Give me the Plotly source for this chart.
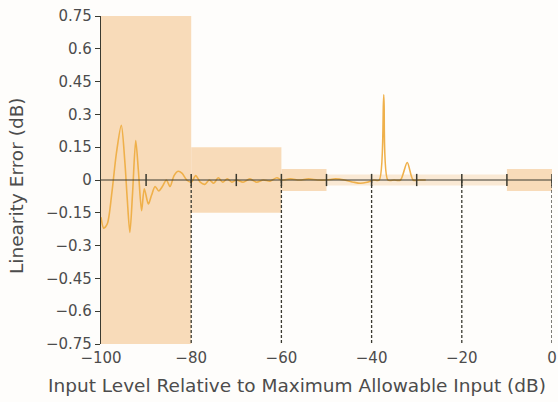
import plotly.graph_objects as go

# ---- data ----
err_x = [-100, -99.4, -98.6, -97.6, -96.6, -95.5, -94.7, -94.2, -93.6, -93.0,
         -92.3, -91.7, -91.0, -90.4, -89.5, -88.8, -88.0, -87.2, -86.4, -85.5,
         -84.7, -83.8, -82.9, -82.0, -81.0, -80.0, -79.0, -78.0, -77.0, -76.0,
         -75.0, -74.0, -73.0, -72.0, -71.0, -70.0, -68.5, -67.0, -65.5, -64.0,
         -62.5, -61.0, -60.0, -58.0, -56.0, -54.0, -52.0, -50.0, -48.0, -46.0,
         -44.0, -42.5, -41.0, -39.5, -38.3, -37.3, -36.4, -35.0, -33.6, -32.1,
         -30.8, -29.5, -28.0]
err_y = [-0.17, -0.22, -0.20, -0.06, 0.12, 0.25, 0.08, -0.08, -0.24, -0.06,
         0.18, 0.04, -0.14, -0.04, -0.11, -0.07, -0.03, -0.05, -0.03, 0.00,
         -0.03, 0.02, 0.04, 0.03, 0.00, -0.01, 0.02, -0.01, -0.02, 0.00,
         -0.015, 0.01, -0.01, 0.005, -0.01, 0.00, -0.01, 0.005, -0.01, 0.00,
         -0.005, 0.01, 0.00, 0.005, 0.00, 0.005, 0.00, 0.00, 0.005, 0.00,
         -0.01, -0.015, -0.01, 0.00, 0.00, 0.39, 0.00, 0.00, 0.00, 0.08,
         0.00, 0.00, 0.00]

band_x0 = [-100, -80, -60, -50, -10]
band_x1 = [-80, -60, -50, -10, 0]
band_half = [0.75, 0.15, 0.05, 0.025, 0.05]
band_light = [False, False, False, True, False]

y_ticks = [0.75, 0.6, 0.45, 0.3, 0.15, 0, -0.15, -0.3, -0.45, -0.6, -0.75]
y_labels = ["0.75", "0.6", "0.45", "0.3", "0.15", "0", "\u22120.15", "\u22120.3",
            "\u22120.45", "\u22120.6", "\u22120.75"]
x_ticks = [-100, -80, -60, -40, -20, 0]
x_labels = ["\u2212100", "\u221280", "\u221260", "\u221240", "\u221220", "0"]
minor_ticks = [-90, -80, -70, -60, -50, -40, -30, -20, -10, 0]
dashed_x = [-80, -60, -40, -20, 0]

axis_col = "#3a3a30"
text_col = "#4c4c4c"
FONT = "DejaVu Sans"

fig = go.Figure()

shapes = []
for x0, x1, h, light in zip(band_x0, band_x1, band_half, band_light):
    shapes.append(dict(type="rect", xref="x", yref="y", x0=x0, x1=x1, y0=-h, y1=h,
                       fillcolor="#fae9d4" if light else "#f8dbb9",
                       line=dict(width=0), layer="below"))
shapes.append(dict(type="line", xref="x", yref="y", x0=-100, x1=0, y0=0, y1=0,
                   line=dict(color=axis_col, width=1.2)))
for xv in minor_ticks:
    shapes.append(dict(type="line", xref="x", yref="y", x0=xv, x1=xv, y0=-0.028, y1=0.028,
                       line=dict(color=axis_col, width=1.5)))
for xv in dashed_x:
    shapes.append(dict(type="line", xref="x", yref="y", x0=xv, x1=xv, y0=0, y1=-0.75,
                       line=dict(color=axis_col, width=1.3, dash="3px,2px")))

fig.add_trace(go.Scatter(x=err_x, y=err_y, mode="lines",
                         line=dict(color="#efb04a", width=1.6, shape="spline", smoothing=0.8),
                         hoverinfo="skip", showlegend=False))

fig.update_layout(
    width=558, height=402,
    margin=dict(l=101, r=6, t=16, b=58),
    paper_bgcolor="#fefdfb", plot_bgcolor="rgba(0,0,0,0)",
    shapes=shapes,
    showlegend=False,
    font=dict(family=FONT, color=text_col, size=15),
    xaxis=dict(range=[-100, 0], showgrid=False, zeroline=False, showline=False,
               automargin=False,
               ticks="", tickvals=x_ticks, ticktext=x_labels, ticklabelstandoff=3,
               ticklabeloverflow="allow",
               tickfont=dict(family=FONT, size=15, color=text_col)),
    yaxis=dict(range=[-0.75, 0.75], showgrid=False, zeroline=False, showline=True,
               automargin=False,
               linecolor=axis_col, linewidth=1.3, ticks="outside", ticklen=5,
               tickcolor=axis_col, tickwidth=1.3,
               tickvals=y_ticks, ticktext=y_labels,
               tickfont=dict(family=FONT, size=15, color=text_col)),
    annotations=[
        dict(text="Input Level Relative to Maximum Allowable Input (dB)",
             xref="paper", yref="paper", x=0.4346, y=-0.128, yanchor="middle",
             xanchor="center", showarrow=False,
             font=dict(family=FONT, size=18.5, color=text_col)),
        dict(text="Linearity Error (dB)", xref="paper", yref="paper",
             x=-0.186, y=0.482, xanchor="center", yanchor="middle", textangle=-90,
             showarrow=False, font=dict(family=FONT, size=18.5, color=text_col)),
    ],
)

fig.write_html("out.html", config={"displayModeBar": False},
               post_script="document.body.style.margin='0';document.body.style.overflow='hidden';")
